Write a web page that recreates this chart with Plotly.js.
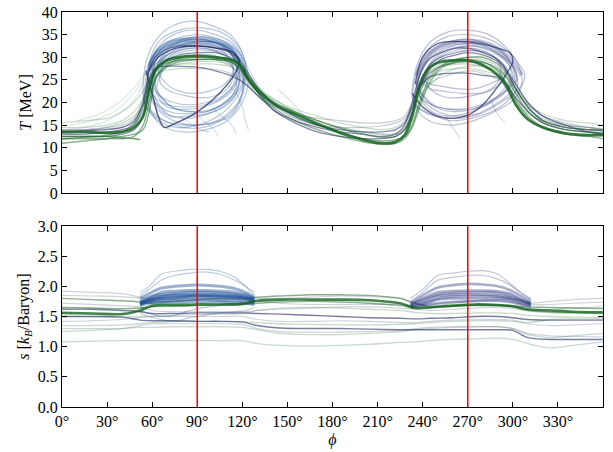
<!DOCTYPE html>
<html><head><meta charset="utf-8">
<script src="https://cdn.plot.ly/plotly-3.0.1.min.js"></script>
<style>html,body{margin:0;padding:0;background:#fff}#plot{width:613px;height:452px}</style>
</head><body><div id="plot"></div>
<script>
// ---------- axis ticks ----------
const PHI_TICKS = [0,30,60,90,120,150,180,210,240,270,300,330];
const PHI_LABELS = ['0°','30°','60°','90°','120°','150°','180°','210°','240°','270°','300°','330°'];
const T_TICKS = [0,5,10,15,20,25,30,35,40];
const S_TICKS = [0,0.5,1,1.5,2,2.5,3];
const S_LABELS = ['0.0','0.5','1.0','1.5','2.0','2.5','3.0'];
const MARK_PHI = [90,270];

// ---------- top panel: T [MeV] along full orbit ----------
const GRID_T = [0,15,30,40,48,54,58,62,68,78,90,102,112,118,124,132,142,155,170,185,200,212,222,228,233,238,244,252,262,270,280,290,296,302,310,320,335,350,360];
const T_G1 = [13.5,13.5,13.3,13.5,14.5,17,23,27,29,30,30.3,30,29.5,28.5,25,22,19.5,17.5,15.3,13.3,11.8,11,11.3,12.8,17,24,27.5,29,29.3,29.3,28.3,26,23.5,19.5,16.3,14.5,13.2,12.8,12.8];
const T_G2 = [12.5,12.5,12.8,13.5,15.5,20,25,27.5,28.5,29.3,29.5,29.5,29,28,25.5,22.5,20,18,16,14.3,13,12.3,12.5,14,17.5,22,26,28,28.8,29,28.8,27.5,25.5,22,18,15.5,14,13.5,13];
const T_G3 = [14.5,14.5,15,16,18,21,24,26,27,27.5,27.5,27.3,26.5,25.5,23.5,21,19,17.5,16,14.5,13.5,13,13.2,14.5,17,21,24,25.5,26.5,27,26.5,25,23,20,17.5,16,15,14.5,14.3];
const T_G4 = [12,12,12,12.5,13,14,18,25,28,29.5,30,30,29.5,28.5,26,22.5,19.5,17,15,13.5,12,11.5,11.8,12.5,15,20,25,28,29.5,30,30,28.5,26.5,23,19,16,14.5,14,14];
const T_G5 = [15.5,16,16.5,18,20,22.5,25,27,28,28.5,28.5,28.5,28,27,25,22.5,20.5,18.5,17,15.5,14.5,14,14.5,16,19,23,25.5,27,27.5,27.5,27,26,24.5,22,19.5,17.5,16,15.5,15];
const T_G6 = [11,11.5,12,12,12.5,15,20,25,27.5,29,29.5,29.5,29,27.5,25,21.5,18.5,16,14,12.5,11.3,10.8,11,12,14.5,19,24,27.5,29,29.5,29,27,24,20.5,17,14.5,13,12.5,12];
const T_G7 = [13,13.5,14.5,15.5,17,19.5,22.5,25.5,27.5,28.5,29,29,28.5,27.5,25.5,23,20.5,18,16,14.5,13.5,13,13,14,16,20,23.5,26,27.5,28,28,27,25.5,23,20,17,15,14,13.5];
const T_N1 = [13,13,13.5,14,15,19,25,27.5,28,28,27.8,27,26,25,23.5,21,18,16,14.5,13.5,13,12.5,13,15,19,23.5,25.5,26.3,26.5,26.5,26,25.5,24,21,18,15.5,14,13.5,13.3];
const T_N2 = [13.5,13.8,14,14.5,16,20,27,30,31.5,32.5,32.5,32,31,29.5,26.5,22.5,19.5,17,15,14,13.5,13.5,14,15.5,20,26,29.5,31,32,32,31,29.5,27,23,19,16,14.5,14,13.8];
const T_N3 = [14,14,14.5,15,16.5,21,26,28.5,29.5,30,30,29.5,28,26.5,24,21,19,17.5,16.5,16,15.5,15.5,16,17,20,24,26.5,28,28.5,28.5,28,26.5,24,21,18.5,16.5,15,14.5,14];
const T_N4 = [12.5,12.5,12.5,13,14,17,23,27,29,30.5,31,31,30,28.5,25.5,21.5,18,15.5,13.5,12.5,12,12,12.5,14,18,23,27,29.5,30.5,31,30.5,29,27,24,20,17,15,13.5,13];
const T_N5 = [13.8,14,14.2,14.5,15.5,18,24,28,30,31.5,32,31.5,30.5,29,26,22,19,16.5,15,14.5,14.5,14.8,15.5,16.5,19,23,26.5,28.5,29.5,30,29.5,28,26,23,19.5,17,15.5,14.5,14];

// early partial green tracks
const GF1_PHI = [0,15,30,42,50,55,58];   const GF1_T = [14,14.5,16,18.5,21.5,25,27];
const GF2_PHI = [5,20,35,45,52,56,60];   const GF2_T = [15,16,18,21,24,26.5,28];
const GF3_PHI = [0,15,30,40,48,52];      const GF3_T = [12,12.3,12.5,12.2,12,11.8];
const GF4_PHI = [10,25,38,46,52,56];     const GF4_T = [16,17.5,20,22.5,25,27];

// loops around phi = 90
const L1_PHI = [58,62,70,80,90,100,110,116,114,106,95,82,70,62,58];
const L1_T   = [24,29,32,33.5,34,33.5,32,28,24,21,19.5,19,19.5,21,24];
const L2_PHI = [60,64,72,82,92,102,112,118,116,108,96,84,72,64,60];
const L2_T   = [22,28,31,32.5,33,32.5,31,27,22,19,17.5,17,17,19,22];
const L3_PHI = [55,58,66,78,90,102,114,122,120,112,100,86,72,62,55];
const L3_T   = [20,28,33,35.5,36,35,33,28,22,18,15.5,15,15.5,17,20];
const L4_PHI = [65,68,75,85,95,105,112,114,110,102,92,82,72,66,65];
const L4_T   = [25,29,31,32,32,31,29,26,23,21.5,21,21.5,22.5,24,25];
const L5_PHI = [57,60,68,80,92,104,113,119,117,109,97,84,71,62,57];
const L5_T   = [23,30,33,34.5,35,34,32,28,23,20,18,17.5,18,20,23];
const L6_PHI = [56,60,64,68,76,88,100,110,116,118,114,104,90,76,64,58];
const L6_T   = [27,22,17,14.5,15.5,17.5,20.5,24,27,29,31,32,32.5,32,30,27];
const L7_PHI = [62,66,74,84,94,104,112,117,114,105,94,82,70,63,62];
const L7_T   = [26,30,32,33,33.5,33,31,27,23,20.5,19,18.5,19,22,26];
const L8_PHI = [54,56,63,74,88,100,112,120,122,116,104,90,76,64,56,54];
const L8_T   = [22,29,34,37,38,37,35,31,26,21,17,15,14.5,16,19,22];
const L9_PHI = [60,63,71,82,93,104,113,118,115,107,96,85,74,65,60];
const L9_T   = [24,29.5,32.5,34,34.5,33.5,31.5,27.5,24,21.5,20,19.5,20,21.5,24];
const L10_PHI = [59,62,70,81,93,105,114,120,119,112,100,87,74,65,59];
const L10_T   = [21,27,31,33,33.5,33,31,27,21,17,15.5,15,16,18,21];
const L11_PHI = [62,66,74,86,98,108,115,118,112,100,88,76,68,62];
const L11_T   = [24,28,30.5,31.5,31.5,30.5,28.5,25,21,18.5,18,18.5,20.5,24];
const L12_PHI = [58,60,66,76,88,100,110,118,121,118,108,94,80,68,60,58];
const L12_T   = [19,25,30,33,34,33.5,31.5,28,24,20,16.5,14.5,14.5,16,18,19];
const L13_PHI = [63,67,76,88,100,110,116,115,108,96,84,73,66,63];
const L13_T   = [23,27,29.5,30.5,30.5,29,26,22.5,20,18,18,19,21,23];
const L14_PHI = [57,59,66,78,92,106,116,122,124,120,110,96,80,66,58,57];
const L14_T   = [24,30,34,36,36.5,35.5,33,29,25,20,16,14,13.5,15,19,24];
const L15_PHI = [60,63,70,80,92,104,114,120,121,115,104,92,80,70,62,60];
const L15_T   = [25,30,33,34,34.5,34,32.5,29.5,25.5,21.5,18.5,17,16.5,17.5,21,25];
const L16_PHI = [64,68,76,86,96,106,112,114,108,98,88,78,70,64];
const L16_T   = [27,30,31.5,32.5,32.5,31.5,29.5,27,24,22.5,22,22.5,24,27];
const A1_PHI = [56,62,72,86,100,112,118,122]; const A1_T = [26,30.5,32.5,33.2,33,31.5,29,26];
const A2_PHI = [58,64,74,88,102,113,119];     const A2_T = [28,31.5,33.5,34,33.5,32,29];
const H1_PHI = [110,116,120,122,124]; const H1_T = [24,22,19,16,14];
const H2_PHI = [100,106,112,116];     const H2_T = [19,17,15.5,13];
const H3_PHI = [78,85,92,98];         const H3_T = [17,15.5,14,13.5];
const H4_PHI = [110,118,125,132,140,150,160]; const H4_T = [33,31,27,23,20,17.5,16];
const H5_PHI = [144,150,156,161];     const H5_T = [22.8,21,19,17];
const H6_PHI = [88,94,100,104];       const H6_T = [18,16,14.5,12.5];

// loops around phi = 270
const M1_PHI = [236,240,248,258,270,282,292,300,302,296,286,274,260,248,240,236];
const M1_T   = [24,29,32,33.5,34,33,31,28,25,22.5,20,18.5,18,19,21.5,24];
const M2_PHI = [238,242,250,260,270,280,290,298,298,290,280,268,256,246,240,238];
const M2_T   = [22,27,30.5,32,32.5,32,30.5,28,25,21.5,19,17.5,17,18,20,22];
const M3_PHI = [233,236,244,256,270,284,296,304,306,300,288,274,258,244,236,233];
const M3_T   = [21,28,33,35.5,36,35,32,28,24,20.5,18,16,15,16,18.5,21];
const M4_PHI = [242,246,254,262,270,280,288,292,290,283,273,262,252,245,242];
const M4_T   = [25,28.5,30.5,31.5,32,31.5,30,27.5,24.5,22.5,21.5,21,21.5,23,25];
const M5_PHI = [233,240,250,260,270,280,290,296,300,298,290,278,264,250,240,235];
const M5_T   = [22,19,17,16.5,17.2,19.5,23.5,26.5,29,31,32,33,33.5,33,30,24];
const M6_PHI = [237,240,248,258,270,282,292,299,301,295,284,272,258,246,239,237];
const M6_T   = [23,28,31.5,33,33.5,33,31.5,28.5,25.5,22.5,20,18.5,18.5,19.5,21,23];
const M7_PHI = [235,238,246,256,268,280,292,301,303,297,286,272,258,245,237,235];
const M7_T   = [20,26,30,32,33,32.5,30.5,27.5,23.5,20.5,18,16.5,16,17.5,19,20];
const M8_PHI = [240,244,252,262,272,282,290,296,294,287,277,266,254,245,241,240];
const M8_T   = [24,28,30,31,31.5,31,29.5,27.5,25,23,22,22,22.5,23,24,24];
const M9_PHI = [238,242,250,262,274,286,296,300,296,286,274,262,250,242,238];
const M9_T   = [23,27,30,32,32.5,31.5,29,26,23,20.5,19,18.5,19,21,23];
const M10_PHI = [234,236,244,256,270,284,296,304,308,304,292,278,262,248,238,234];
const M10_T   = [20,27,32,34.5,35,34,31.5,28.5,26,23,20,17.5,16.5,17,18.5,20];
const M11_PHI = [236,240,248,258,270,282,292,300,303,298,288,276,262,250,240,236];
const M11_T   = [23,28,31,32.5,33,32.5,30.5,28,25.5,22,19.5,17.5,17,18,20.5,23];
const M12_PHI = [240,244,252,262,272,282,290,295,292,284,274,264,254,246,240];
const M12_T   = [25,28,30,31,31.5,31,29.5,27.5,25.5,24,23,23,23.5,24,25];
const A3_PHI = [236,242,252,264,278,290,300,306]; const A3_T = [26,30,32.5,33.5,33.5,32,29,26];
const K1_PHI = [255,258,262,265]; const K1_T = [17,15.5,13.5,12];
const K2_PHI = [285,288,292,295]; const K2_T = [21,18.5,16.5,15.5];
const K3_PHI = [300,304,310];     const K3_T = [26,23,20];

// ---------- bottom panel: s [k_B/Baryon] ----------
const GRID_S = [0,20,40,52,60,75,90,105,120,130,145,165,185,205,225,235,245,260,275,290,300,310,325,340,360];
const S_G1 = [1.56,1.55,1.54,1.6,1.68,1.69,1.7,1.7,1.71,1.76,1.78,1.78,1.78,1.77,1.72,1.64,1.65,1.68,1.7,1.69,1.67,1.62,1.6,1.58,1.57];
const S_G2 = [1.65,1.64,1.63,1.64,1.66,1.67,1.68,1.69,1.7,1.72,1.74,1.75,1.74,1.72,1.68,1.65,1.66,1.68,1.69,1.69,1.66,1.6,1.57,1.56,1.55];
const S_G3 = [1.35,1.35,1.36,1.38,1.4,1.42,1.42,1.42,1.41,1.4,1.38,1.37,1.36,1.36,1.37,1.38,1.4,1.42,1.43,1.43,1.42,1.4,1.45,1.46,1.46];
const S_G4 = [1.08,1.09,1.1,1.1,1.1,1.1,1.1,1.1,1.1,1.05,1.02,1.01,1.02,1.04,1.07,1.08,1.1,1.12,1.13,1.14,1.12,1.05,0.98,1.02,1.08];
const S_G5 = [1.8,1.78,1.76,1.74,1.72,1.75,1.78,1.8,1.8,1.82,1.84,1.86,1.86,1.85,1.8,1.72,1.66,1.67,1.68,1.68,1.67,1.66,1.65,1.64,1.63];
const S_G6 = [1.5,1.5,1.49,1.5,1.5,1.52,1.53,1.54,1.55,1.6,1.64,1.65,1.64,1.62,1.6,1.57,1.55,1.55,1.56,1.56,1.55,1.52,1.5,1.49,1.48];
const S_G7 = [1.25,1.27,1.3,1.32,1.32,1.33,1.33,1.33,1.32,1.28,1.22,1.2,1.2,1.22,1.25,1.28,1.3,1.32,1.33,1.33,1.3,1.2,1.15,1.18,1.22];
const S_N1 = [1.5,1.5,1.49,1.44,1.43,1.43,1.42,1.42,1.41,1.35,1.31,1.3,1.3,1.29,1.28,1.28,1.28,1.28,1.28,1.28,1.27,1.15,1.12,1.12,1.12];
const S_N2 = [1.62,1.62,1.6,1.58,1.55,1.55,1.56,1.56,1.56,1.55,1.54,1.52,1.5,1.48,1.47,1.46,1.47,1.48,1.5,1.5,1.48,1.45,1.44,1.44,1.44];
const S_N3 = [1.92,1.9,1.88,1.82,1.8,1.83,1.85,1.84,1.82,1.8,1.8,1.82,1.84,1.83,1.8,1.72,1.68,1.72,1.76,1.78,1.78,1.72,1.75,1.78,1.8];
const S_N4 = [1.72,1.7,1.68,1.66,1.6,1.58,1.58,1.58,1.58,1.6,1.62,1.64,1.66,1.66,1.64,1.62,1.6,1.62,1.64,1.65,1.63,1.6,1.62,1.64,1.66];
const S_N5 = [1.3,1.3,1.3,1.35,1.38,1.38,1.38,1.38,1.37,1.3,1.25,1.24,1.24,1.25,1.27,1.3,1.32,1.33,1.33,1.33,1.3,1.22,1.18,1.17,1.16];
const S_N6 = [1.42,1.43,1.45,1.48,1.5,1.5,1.5,1.5,1.5,1.45,1.42,1.42,1.43,1.42,1.4,1.4,1.42,1.44,1.45,1.45,1.44,1.38,1.35,1.36,1.38];
const S_N7 = [1.85,1.84,1.83,1.8,1.76,1.76,1.78,1.78,1.78,1.76,1.72,1.7,1.7,1.7,1.7,1.68,1.7,1.74,1.76,1.76,1.74,1.7,1.7,1.72,1.74];

// high-entropy bundle near phi = 90
const BX1 = [52,58,66,75,85,95,105,115,122,128];
const B1 = [1.72,1.74,1.76,1.77,1.78,1.78,1.77,1.76,1.74,1.72];
const B2 = [1.75,1.78,1.8,1.81,1.82,1.82,1.81,1.8,1.78,1.76];
const B3 = [1.7,1.76,1.84,1.86,1.87,1.87,1.86,1.85,1.82,1.78];
const B4 = [1.7,1.8,1.9,1.92,1.93,1.93,1.92,1.9,1.86,1.8];
const B5 = [1.68,1.72,1.73,1.73,1.74,1.74,1.74,1.73,1.72,1.7];
const B6 = [1.8,1.88,1.97,2.0,2.02,2.02,2.0,1.96,1.9,1.82];
const B7 = [1.85,1.95,2.1,2.18,2.22,2.24,2.2,2.1,2.0,1.9];
const B8 = [1.9,2.0,2.2,2.25,2.28,2.28,2.25,2.15,2.0,1.85];
const B9 = [1.7,1.75,1.79,1.8,1.84,1.85,1.84,1.83,1.8,1.74];
const B10 = [1.6,1.55,1.5,1.52,1.6,1.65,1.68,1.7,1.72,1.74];
const B11 = [1.55,1.5,1.45,1.42,1.48,1.52,1.56,1.58,1.6,1.65];
const B12 = [1.74,1.82,1.86,1.88,1.9,1.9,1.89,1.87,1.84,1.78];
const B13 = [1.72,1.78,1.82,1.84,1.85,1.84,1.83,1.82,1.8,1.75];

// high-entropy bundle near phi = 270
const BX2 = [232,240,250,260,270,280,290,298,305,312];
const C1 = [1.66,1.7,1.78,1.8,1.8,1.8,1.8,1.78,1.72,1.68];
const C2 = [1.68,1.75,1.84,1.86,1.87,1.86,1.85,1.82,1.76,1.7];
const C3 = [1.7,1.8,1.9,1.92,1.93,1.93,1.92,1.88,1.8,1.72];
const C4 = [1.72,1.85,1.98,2.02,2.04,2.03,2.0,1.94,1.85,1.75];
const C5 = [1.75,1.9,2.1,2.15,2.18,2.18,2.12,2.02,1.9,1.78];
const C6 = [1.8,1.95,2.18,2.22,2.25,2.26,2.2,2.05,1.9,1.8];
const C7 = [1.65,1.68,1.72,1.74,1.75,1.76,1.76,1.74,1.7,1.66];
const C8 = [1.68,1.72,1.8,1.83,1.84,1.84,1.83,1.8,1.76,1.72];
const C9 = [1.7,1.78,1.86,1.89,1.9,1.9,1.89,1.85,1.78,1.7];

// ---------- drawing ----------
const GREEN = 'rgb(20,100,30)';
const GREEN_L = 'rgb(70,140,80)';
const NAVY = 'rgb(30,40,100)';
const BLUE = 'rgb(30,80,150)';
const NAVY2 = 'rgb(45,60,130)';
const GRAY = 'rgb(95,105,135)';

const traces = [];
function add(x, y, panel, color, width, opacity) {
  traces.push({
    type: 'scatter', mode: 'lines', x: x, y: y,
    xaxis: panel === 1 ? 'x' : 'x2', yaxis: panel === 1 ? 'y' : 'y2',
    line: {color: color, width: width, shape: 'spline', smoothing: 0.9},
    opacity: opacity, hoverinfo: 'skip', showlegend: false
  });
}

[T_G3, T_G5, T_G7].forEach(t => add(GRID_T, t, 1, GREEN_L, 1.2, 0.3));
[T_N3, T_N5].forEach(t => add(GRID_T, t, 1, GRAY, 1.2, 0.35));
[[GF1_PHI,GF1_T],[GF2_PHI,GF2_T],[GF4_PHI,GF4_T]].forEach(p => add(p[0], p[1], 1, GREEN_L, 1, 0.25));
[[A1_PHI,A1_T],[A2_PHI,A2_T]].forEach(p => add(p[0], p[1], 1, BLUE, 4, 0.35));
[[L1_PHI,L1_T],[L2_PHI,L2_T],[L3_PHI,L3_T],[L4_PHI,L4_T],[L5_PHI,L5_T],[L7_PHI,L7_T],[L8_PHI,L8_T],
 [L9_PHI,L9_T],[L10_PHI,L10_T],[L11_PHI,L11_T],[L12_PHI,L12_T],[L13_PHI,L13_T],[L14_PHI,L14_T],
 [L15_PHI,L15_T],[L16_PHI,L16_T]]
  .forEach(p => add(p[0], p[1], 1, BLUE, 1.2, 0.32));
add(L6_PHI, L6_T, 1, NAVY, 1.4, 0.75);
[[H1_PHI,H1_T],[H2_PHI,H2_T],[H3_PHI,H3_T],[H4_PHI,H4_T],[H5_PHI,H5_T],[H6_PHI,H6_T]].forEach(p => add(p[0], p[1], 1, BLUE, 1, 0.25));
add(A3_PHI, A3_T, 1, NAVY2, 4, 0.3);
[[M1_PHI,M1_T],[M2_PHI,M2_T],[M3_PHI,M3_T],[M4_PHI,M4_T],[M6_PHI,M6_T],[M7_PHI,M7_T],[M8_PHI,M8_T],
 [M9_PHI,M9_T],[M10_PHI,M10_T],[M11_PHI,M11_T],[M12_PHI,M12_T]]
  .forEach(p => add(p[0], p[1], 1, NAVY2, 1.2, 0.32));
add(M5_PHI, M5_T, 1, NAVY, 1.4, 0.7);
[[K1_PHI,K1_T],[K2_PHI,K2_T],[K3_PHI,K3_T]].forEach(p => add(p[0], p[1], 1, NAVY2, 1, 0.25));
[T_N1, T_N2, T_N4].forEach(t => add(GRID_T, t, 1, NAVY, 1.3, 0.55));
[T_G2, T_G4, T_G6].forEach(t => add(GRID_T, t, 1, GREEN, 1.4, 0.5));
add(GF3_PHI, GF3_T, 1, GREEN, 1.4, 0.6);
add(GRID_T, T_G1, 1, GREEN, 2.8, 0.85);

[S_G3, S_G4, S_G6, S_G7].forEach(s => add(GRID_S, s, 2, GREEN_L, 1.3, 0.3));
[S_N3, S_N4, S_N5, S_N6, S_N7].forEach(s => add(GRID_S, s, 2, GRAY, 1.2, 0.3));
[S_N1, S_N2].forEach(s => add(GRID_S, s, 2, NAVY, 1.4, 0.6));
[S_G2, S_G5].forEach(s => add(GRID_S, s, 2, GREEN, 1.4, 0.5));
[B7, B8, B10, B11].forEach(s => add(BX1, s, 2, BLUE, 1.2, 0.3));
[B1, B2, B3, B4, B5, B6, B9, B12, B13].forEach(s => add(BX1, s, 2, BLUE, 3, 0.45));
[C5, C6].forEach(s => add(BX2, s, 2, NAVY2, 1.2, 0.3));
[C1, C2, C3, C4, C7, C8, C9].forEach(s => add(BX2, s, 2, NAVY2, 2.6, 0.42));
add(GRID_S, S_G1, 2, GREEN, 2.6, 0.8);

const FONT = {family: 'Liberation Serif', size: 16, color: '#000'};
const axisBase = {
  showline: true, linecolor: '#000', linewidth: 1, mirror: 'ticks',
  ticks: 'inside', ticklen: 5, tickwidth: 1, tickcolor: '#000',
  showgrid: false, zeroline: false, tickfont: FONT
};
const shapes = [];
MARK_PHI.forEach(p => {
  shapes.push({type: 'line', xref: 'x', yref: 'y domain', x0: p, x1: p, y0: 0, y1: 1, line: {color: 'rgb(255,0,0)', width: 1.5}});
  shapes.push({type: 'line', xref: 'x2', yref: 'y2 domain', x0: p, x1: p, y0: 0, y1: 1, line: {color: 'rgb(255,0,0)', width: 1.5}});
});

const layout = {
  width: 613, height: 452,
  margin: {l: 62, r: 10, t: 12, b: 45},
  paper_bgcolor: '#fff', plot_bgcolor: '#fff',
  font: FONT, showlegend: false, hovermode: false,
  xaxis: Object.assign({}, axisBase, {domain: [0, 1], anchor: 'y', range: [0, 360],
    tickvals: PHI_TICKS, ticktext: PHI_LABELS, showticklabels: false}),
  yaxis: Object.assign({}, axisBase, {domain: [0.5418, 1], anchor: 'x', range: [0, 40],
    tickvals: T_TICKS, title: {text: '<i>T</i> [MeV]', font: FONT, standoff: 6}}),
  xaxis2: Object.assign({}, axisBase, {domain: [0, 1], anchor: 'y2', range: [0, 360],
    tickvals: PHI_TICKS, ticktext: PHI_LABELS,
    title: {text: '<i>ϕ</i>', font: FONT, standoff: 4}}),
  yaxis2: Object.assign({}, axisBase, {domain: [0, 0.4582], anchor: 'x2', range: [0, 3],
    tickvals: S_TICKS, ticktext: S_LABELS,
    title: {text: '<i>s</i> [<i>k</i><sub><i>B</i></sub>/Baryon]', font: FONT, standoff: 4}}),
  shapes: shapes
};

Plotly.newPlot('plot', traces, layout, {staticPlot: true, displayModeBar: false});
</script></body></html>
